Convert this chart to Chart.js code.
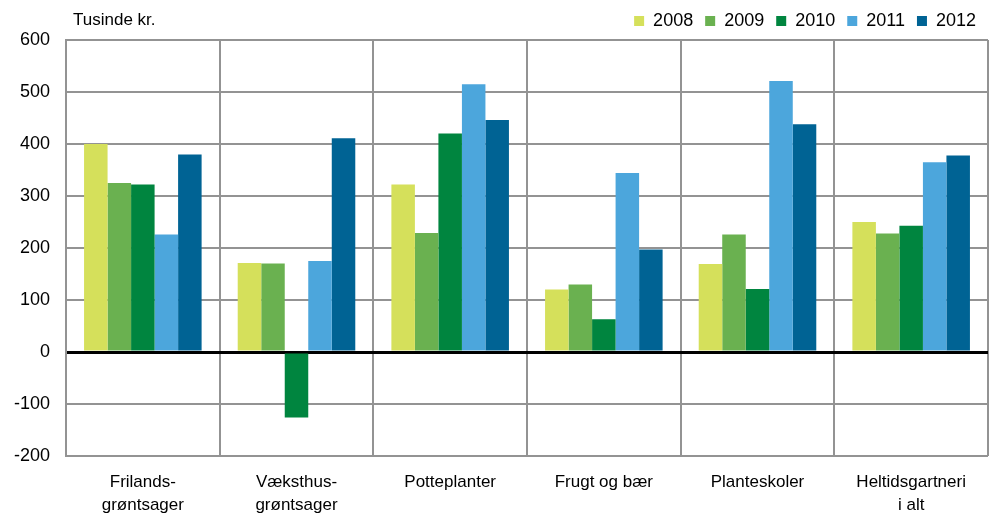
<!DOCTYPE html>
<html>
<head>
<meta charset="utf-8">
<script src="https://cdn.jsdelivr.net/npm/chart.js@4"></script>
<style>
  html, body { margin: 0; padding: 0; background: #fff; }
  #wrap { width: 997px; height: 519px; position: relative; }
</style>
</head>
<body>
<div id="wrap"><canvas id="myChart"></canvas></div>
<script>
const categories = [
    ['Frilands-', 'grøntsager'],
    ['Væksthus-', 'grøntsager'],
    'Potteplanter',
    'Frugt og bær',
    'Planteskoler',
    ['Heltidsgartneri', 'i alt']
];
const years = ['2008', '2009', '2010', '2011', '2012'];
const v2008 = [400, 171, 322, 120, 169, 250];
const v2009 = [325, 170, 229, 130, 226, 228];
const v2010 = [322, -126, 420, 63, 121, 243];
const v2011 = [226, 175, 515, 344, 521, 365];
const v2012 = [380, 411, 446, 197, 438, 378];
const colors = ['#d5e05b', '#6ab150', '#00853f', '#4ca6dc', '#006394'];
const unitLabel = 'Tusinde kr.';

const series = [v2008, v2009, v2010, v2011, v2012];

// draws the unit text in the top-left corner
const unitText = {
    id: 'unitText',
    afterDraw(chart) {
        const ctx = chart.ctx;
        ctx.save();
        ctx.font = '17px "Liberation Sans", Arial, sans-serif';
        ctx.fillStyle = '#000';
        ctx.textBaseline = 'middle';
        ctx.fillText(unitLabel, 73, 20);
        ctx.restore();
    }
};

new Chart('myChart', {
    type: 'bar',
    data: {
        labels: categories,
        datasets: years.map((y, i) => ({
            label: y,
            data: series[i],
            backgroundColor: colors[i],
            borderWidth: 0,
            categoryPercentage: 0.765,
            barPercentage: 1.0
        }))
    },
    options: {
        responsive: true,
        maintainAspectRatio: false,
        animation: false,
        layout: {
            padding: { left: 0, right: 9, top: 0, bottom: 2 }
        },
        plugins: {
            legend: {
                position: 'top',
                align: 'end',
                labels: {
                    boxWidth: 10,
                    boxHeight: 10,
                    padding: 12,
                    color: '#000',
                    font: { size: 18, family: '"Liberation Sans", Arial, sans-serif' }
                }
            },
            tooltip: { enabled: false }
        },
        scales: {
            x: {
                afterFit(scale) { scale.height = 61; },
                grid: {
                    offset: true,
                    color: '#939393',
                    lineWidth: 2,
                    drawTicks: false
                },
                border: { display: false },
                ticks: {
                    color: '#000',
                    padding: 14,
                    maxRotation: 0,
                    font: { size: 17, family: '"Liberation Sans", Arial, sans-serif', lineHeight: 1.4 }
                }
            },
            y: {
                min: -200,
                max: 600,
                afterFit(scale) { scale.width = 66; },
                grid: {
                    color: ctx => ctx.tick && ctx.tick.value === 0 ? '#000' : '#939393',
                    lineWidth: ctx => ctx.tick && ctx.tick.value === 0 ? 3 : 2,
                    drawTicks: false
                },
                border: { display: true, color: '#939393', width: 2 },
                ticks: {
                    stepSize: 100,
                    color: '#000',
                    padding: 16,
                    font: { size: 18, family: '"Liberation Sans", Arial, sans-serif' }
                }
            }
        }
    },
    plugins: [unitText]
});
</script>
</body>
</html>
